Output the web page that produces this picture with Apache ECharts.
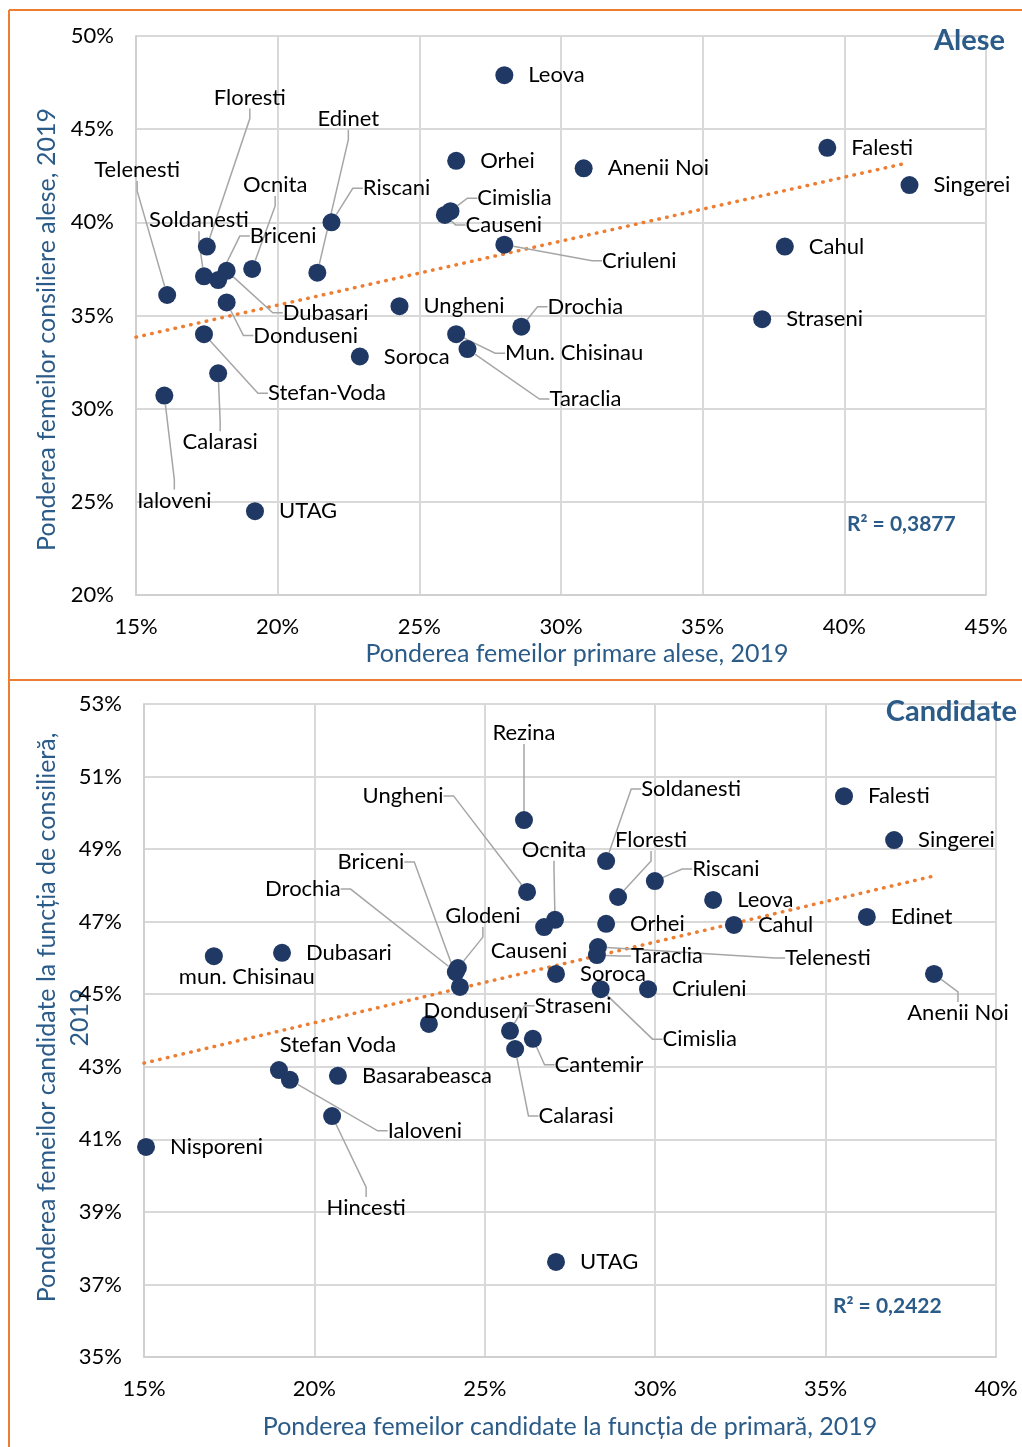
<!DOCTYPE html>
<html>
<head>
<meta charset="utf-8">
<script src="https://cdn.jsdelivr.net/npm/echarts@6/dist/echarts.min.js"></script>
<style>
  html, body { margin: 0; padding: 0; background: #fff; }
  #chart { width: 1022px; height: 1447px; }
</style>
</head>
<body>
<div id="chart"></div>
<script>
// --- Alese (primare alese vs consiliere alese), in %
var aleseNames = ['Leova', 'Orhei', 'Anenii Noi', 'Falesti', 'Singerei', 'Cahul', 'Straseni',
  'Cimislia', 'Causeni', 'Criuleni', 'Ungheni', 'Drochia', 'Mun. Chisinau', 'Taraclia', 'Soroca',
  'Riscani', 'Edinet', 'Ocnita', 'Floresti', 'Soldanesti', 'Briceni', 'Dubasari', 'Donduseni',
  'Telenesti', 'Stefan-Voda', 'Calarasi', 'Ialoveni', 'UTAG'];
var aleseX = [28.0, 26.3, 30.8, 39.4, 42.3, 37.9, 37.1,
  26.1, 25.9, 28.0, 24.3, 28.6, 26.3, 26.7, 22.9,
  21.9, 21.4, 19.1, 17.5, 17.4, 17.9, 18.2, 18.2,
  16.1, 17.4, 17.9, 16.0, 19.2];
var aleseY = [47.9, 43.3, 42.9, 44.0, 42.0, 38.7, 34.8,
  40.6, 40.4, 38.8, 35.5, 34.4, 34.0, 33.2, 32.8,
  40.0, 37.3, 37.5, 38.7, 37.1, 36.9, 37.4, 35.7,
  36.1, 34.0, 31.9, 30.7, 24.5];
// linear trend (Excel): [x, y] at both ends
var aleseTrend = [[15, 33.84], [42.2, 43.18]];

// --- Candidate (candidate primar vs candidate consilier), in %
var candNames = ['Rezina', 'Ungheni', 'Soldanesti', 'Floresti', 'Riscani', 'Falesti', 'Singerei',
  'Leova', 'Cahul', 'Edinet', 'Anenii Noi', 'Orhei', 'Ocnita', 'Causeni', 'Telenesti', 'Taraclia',
  'Soroca', 'Criuleni', 'Cimislia', 'Glodeni', 'Drochia', 'Briceni', 'Donduseni', 'Dubasari',
  'mun. Chisinau', 'Straseni', 'Cantemir', 'Calarasi', 'Stefan Voda', 'Ialoveni', 'Basarabeasca',
  'Hincesti', 'Nisporeni', 'UTAG'];
var candX = [26.15, 26.24, 28.56, 28.91, 29.99, 35.54, 37.01,
  31.70, 32.31, 36.21, 38.18, 28.56, 27.06, 26.74, 28.32, 28.29,
  27.09, 29.79, 28.40, 24.21, 24.15, 24.27, 23.36, 19.05,
  17.05, 25.74, 26.41, 25.89, 18.96, 19.28, 20.69,
  20.52, 15.06, 27.09];
var candY = [49.80, 47.82, 48.67, 47.68, 48.12, 50.46, 49.25,
  47.60, 46.91, 47.13, 45.56, 46.94, 47.05, 46.85, 46.30, 46.08,
  45.56, 45.14, 45.14, 45.72, 45.61, 45.20, 44.18, 46.14,
  46.05, 43.99, 43.77, 43.49, 42.91, 42.64, 42.75,
  41.64, 40.79, 37.62];
var candTrend = [[15, 43.10], [38.18, 48.26]];

var xTicksAlese = [15, 45, 5];
var yTicksAlese = [20, 50, 5];
var xTicksCand = [15, 40, 5];
var yTicksCand = [35, 53, 2];

var r2Alese = 'R² = 0,3877';
var r2Cand = 'R² = 0,2422';

// label placement for moved labels: [dx, dy of label centre from point, leader line 1/0]
var aleseLabelPos = {
  'Floresti': [43, -149, 1], 'Edinet': [31, -154, 1], 'Telenesti': [-30, -125, 1],
  'Ocnita': [23, -84, 1], 'Riscani': [65, -34, 1], 'Soldanesti': [-5, -56, 1],
  'Briceni': [65, -44, 1], 'Cimislia': [64, -13, 1], 'Causeni': [59, 10, 1],
  'Criuleni': [135, 16, 1], 'Dubasari': [99, 42, 1], 'Donduseni': [79, 33, 1],
  'Drochia': [64, -20, 1], 'Mun. Chisinau': [118, 19, 1], 'Taraclia': [118, 50, 1],
  'Stefan-Voda': [123, 59, 1], 'Calarasi': [2, 69, 1], 'Ialoveni': [10, 105, 1]
};
var candLabelPos = {
  'Rezina': [0, -87, 1], 'Ungheni': [-124, -96, 1], 'Soldanesti': [85, -72, 1],
  'Floresti': [33, -57, 1], 'Riscani': [71, -12, 1], 'Anenii Noi': [24, 39, 1],
  'Ocnita': [-1, -70, 1], 'Causeni': [-15, 24, 0], 'Telenesti': [230, 11, 1],
  'Taraclia': [70, 1, 1], 'Cimislia': [99, 50, 1], 'Glodeni': [25, -52, 1],
  'Drochia': [-153, -83, 1], 'Briceni': [-89, -125, 1], 'Donduseni': [47, -13, 0],
  'mun. Chisinau': [33, 21, 0], 'Straseni': [63, -25, 1], 'Cantemir': [66, 26, 1],
  'Calarasi': [61, 67, 1], 'Stefan Voda': [59, -25, 0], 'Ialoveni': [135, 51, 1],
  'Hincesti': [34, 92, 1]
};

var FONT = 'Lato';
var blue = '#2b5b88';
var orange = '#ED7D31';

function points(names, xs, ys, pos) {
  return names.map(function (n, i) {
    var p = pos[n];
    return {
      name: n,
      value: [xs[i], ys[i]],
      labelLine: { show: !!(p && p[2]) }
    };
  });
}

function layoutFor(names, pos) {
  return function (params) {
    var p = pos[names[params.dataIndex]];
    if (!p) return {};
    var r = params.rect;
    return {
      x: r.x + r.width / 2 + p[0],
      y: r.y + r.height / 2 + p[1],
      align: 'center',
      verticalAlign: 'middle'
    };
  };
}

function xAxis(idx, t, name, gap, pad) {
  return {
    gridIndex: idx, type: 'value', min: t[0], max: t[1], interval: t[2],
    name: name, nameLocation: 'middle', nameGap: gap, nameMoveOverlap: false,
    nameTextStyle: { color: blue, fontSize: 25, fontFamily: FONT, padding: pad },
    axisLine: { show: true, lineStyle: { color: '#d0d0d0', width: 2 } },
    axisTick: { show: false },
    axisLabel: { formatter: '{value}%', color: '#000', fontSize: 22, fontFamily: FONT, margin: 21 },
    splitLine: { show: true, lineStyle: { color: '#d9d9d9', width: 2 } }
  };
}

function yAxis(idx, t, name, gap, pad) {
  return {
    gridIndex: idx, type: 'value', min: t[0], max: t[1], interval: t[2],
    name: name, nameLocation: 'middle', nameGap: gap, nameMoveOverlap: false,
    nameTextStyle: { color: blue, fontSize: 25, fontFamily: FONT, lineHeight: 33, padding: pad },
    axisLine: { show: true, lineStyle: { color: '#d0d0d0', width: 2 } },
    axisTick: { show: false },
    axisLabel: { formatter: '{value}%', color: '#000', fontSize: 22, fontFamily: FONT, margin: 22 },
    splitLine: { show: true, lineStyle: { color: '#d9d9d9', width: 2 } }
  };
}

var labelStyle = { show: true, position: 'right', distance: 15, formatter: '{b}',
  color: '#000', fontSize: 22, fontFamily: FONT };
var lineStyleLead = { show: false, length2: 10, lineStyle: { color: '#a6a6a6', width: 1.5 } };

var myChart = echarts.init(document.getElementById('chart'), null, { renderer: 'canvas' });

var option = {
  animation: false,
  backgroundColor: '#fff',
  grid: [
    { left: 136, top: 36, width: 850, height: 559, outerBoundsMode: 'none' },
    { left: 144, top: 704, width: 852, height: 653, outerBoundsMode: 'none' }
  ],
  xAxis: [
    xAxis(0, xTicksAlese, 'Ponderea femeilor primare alese, 2019', 46, [0, 0, 0, 32]),
    xAxis(1, xTicksCand, 'Ponderea femeilor candidate la funcția de primară, 2019', 57, 0)
  ],
  yAxis: [
    yAxis(0, yTicksAlese, 'Ponderea femeilor consiliere alese, 2019', 73, [0, 28, 0, 0]),
    yAxis(1, yTicksCand, 'Ponderea femeilor candidate la funcția de consilieră,\n2019', 48, [0, 0, 0, 26])
  ],
  series: [
    {
      type: 'line', xAxisIndex: 0, yAxisIndex: 0, silent: true,
      data: aleseTrend,
      showSymbol: false, z: 1,
      lineStyle: { color: orange, width: 3.5, type: [0.5, 7.5], cap: 'round' }
    },
    {
      type: 'scatter', xAxisIndex: 0, yAxisIndex: 0, z: 3,
      symbolSize: 18,
      itemStyle: { color: '#203864', opacity: 1 },
      label: labelStyle,
      labelLine: lineStyleLead,
      labelLayout: layoutFor(aleseNames, aleseLabelPos),
      data: points(aleseNames, aleseX, aleseY, aleseLabelPos)
    },
    {
      type: 'line', xAxisIndex: 1, yAxisIndex: 1, silent: true,
      data: candTrend,
      showSymbol: false, z: 1,
      lineStyle: { color: orange, width: 3.5, type: [0.5, 7.5], cap: 'round' }
    },
    {
      type: 'scatter', xAxisIndex: 1, yAxisIndex: 1, z: 3,
      symbolSize: 18,
      itemStyle: { color: '#203864', opacity: 1 },
      label: labelStyle,
      labelLine: lineStyleLead,
      labelLayout: layoutFor(candNames, candLabelPos),
      data: points(candNames, candX, candY, candLabelPos)
    }
  ],
  graphic: [
    { type: 'line', z: 100, shape: { x1: 9, y1: 10, x2: 1022, y2: 10 }, style: { stroke: orange, lineWidth: 2 } },
    { type: 'line', z: 100, shape: { x1: 9, y1: 680, x2: 1022, y2: 680 }, style: { stroke: orange, lineWidth: 2 } },
    { type: 'line', z: 100, shape: { x1: 9, y1: 10, x2: 9, y2: 1447 }, style: { stroke: orange, lineWidth: 2 } },
    { type: 'text', z: 100, right: 17, top: 26,
      style: { text: 'Alese', fill: blue, font: 'bold 29px Lato' } },
    { type: 'text', z: 100, right: 5, top: 697,
      style: { text: 'Candidate', fill: blue, font: 'bold 29px Lato' } },
    { type: 'text', z: 100, left: 847, top: 514,
      style: { text: r2Alese, fill: blue, font: 'bold 21px Lato' } },
    { type: 'text', z: 100, left: 833, top: 1296,
      style: { text: r2Cand, fill: blue, font: 'bold 21px Lato' } }
  ]
};

myChart.setOption(option);
</script>
</body>
</html>
